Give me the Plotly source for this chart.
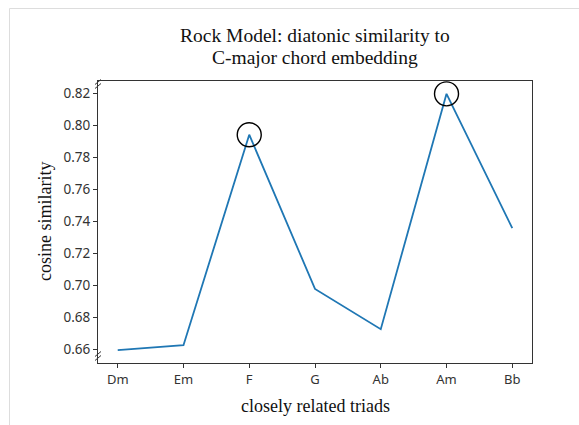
import plotly.graph_objects as go

# ---- data ----
triads = ["Dm", "Em", "F", "G", "Ab", "Am", "Bb"]
similarity = [0.6596, 0.6627, 0.7940, 0.6978, 0.6727, 0.8195, 0.7357]
highlight_triads = ["F", "Am"]
highlight_values = [0.7940, 0.8195]
y_ticks = [0.66, 0.68, 0.70, 0.72, 0.74, 0.76, 0.78, 0.80, 0.82]
title_lines = ["Rock Model: diatonic similarity to", "C-major chord embedding"]

W, H = 579, 425
L, R, T, B = 98, 47, 81, 62
PW, PH = W - L - R, H - T - B

def px(x):
    return (x - L) / PW

def py(y):
    return (H - B - y) / PH

fig = go.Figure()
fig.add_trace(go.Scatter(
    x=triads, y=similarity, mode="lines",
    line=dict(color="#1f77b4", width=1.8), showlegend=False, hoverinfo="skip"))
fig.add_trace(go.Scatter(
    x=highlight_triads, y=highlight_values, mode="markers",
    marker=dict(symbol="circle-open", size=24, color="black",
                line=dict(color="black", width=1.4)),
    showlegend=False, hoverinfo="skip"))

shapes = []
# axis break marks (//) near top-left and bottom-left corners
for yc in (82, 86, 354, 358):
    shapes.append(dict(type="line", xref="paper", yref="paper",
                       x0=px(95), y0=py(yc + 2.5), x1=px(101), y1=py(yc - 2.5),
                       line=dict(color="#333333", width=1)))
# light page border
shapes.append(dict(type="line", xref="paper", yref="paper",
                   x0=px(9.5), y0=py(8.5), x1=px(W + 5), y1=py(8.5),
                   line=dict(color="#dddddd", width=1), layer="below"))
shapes.append(dict(type="line", xref="paper", yref="paper",
                   x0=px(9.5), y0=py(8.5), x1=px(9.5), y1=py(H + 5),
                   line=dict(color="#dddddd", width=1), layer="below"))

serif = "Liberation Serif"
annotations = [
    dict(text="closely related triads", xref="paper", yref="paper",
         x=0.5, y=py(406), xanchor="center", yanchor="middle", showarrow=False,
         font=dict(family=serif, size=18, color="#111111")),
    dict(text="cosine similarity", xref="paper", yref="paper",
         x=px(45), y=py(222), xanchor="center", yanchor="middle", showarrow=False,
         textangle=-90, font=dict(family=serif, size=18, color="#111111")),
]
for i, line in enumerate(title_lines):
    annotations.append(dict(
        text=line, xref="paper", yref="paper", x=0.5, y=py(35 + 22.5 * i),
        xanchor="center", yanchor="middle", showarrow=False,
        font=dict(family=serif, size=19.5, color="#111111")))

fig.update_layout(
    width=W, height=H,
    margin=dict(l=L, r=R, t=T, b=B, pad=0),
    paper_bgcolor="white", plot_bgcolor="white",
    shapes=shapes, annotations=annotations,
    font=dict(family="Noto Sans", size=13, color="#333333"),
)
fig.update_xaxes(
    type="category", categoryorder="array", categoryarray=triads,
    range=[-0.3, 6.3], showgrid=False, zeroline=False,
    showline=True, linecolor="#333333", linewidth=1, mirror=True,
    ticks="outside", ticklen=4, tickcolor="#333333",
    tickfont=dict(family="Noto Sans", size=13, color="#333333"))
fig.update_yaxes(
    range=[0.6516, 0.8275], tickvals=y_ticks,
    ticktext=[f"{v:.2f}" for v in y_ticks],
    showgrid=False, zeroline=False,
    showline=True, linecolor="#333333", linewidth=1, mirror=True,
    ticks="outside", ticklen=4, tickcolor="#333333",
    tickfont=dict(family="Noto Sans", size=13.5, color="#333333"))

fig.write_html("out.html")
